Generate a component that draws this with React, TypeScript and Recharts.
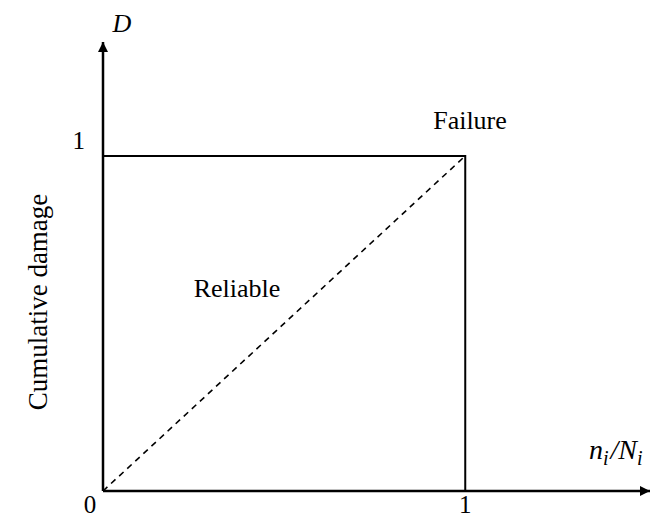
import React from "react"
import {
  ComposedChart,
  Line,
  XAxis,
  YAxis,
} from "recharts"

// Box boundary (reliable region) and Miner's rule line
const boxX = [0, 1, 1]
const boxY = [1, 1, 0]
const minerX = [0, 1]
const minerY = [0, 1]

const xTicks = [0, 1]
const yTicks = [1]
const xTickLabels = ["0", "1"]
const yTickLabels = ["1"]

const boxData = boxX.map((x, i) => ({ x, y: boxY[i] }))
const minerData = minerX.map((x, i) => ({ x, y: minerY[i] }))

const FONT = "Liberation Serif, Times New Roman, serif"

const Note = ({ children, ...rest }: any) => (
  <text fontFamily={FONT} style={{ fontFamily: FONT }} fontSize={26} fill="#000" {...rest}>
    {children}
  </text>
)

const XTick = (props: any) => {
  const { x, y, payload } = props
  const i = xTicks.indexOf(payload.value)
  const dx = payload.value === 0 ? -13 : 0
  return (
    <Note x={x + dx} y={y + 22} textAnchor="middle" fontSize={25}>
      {xTickLabels[i]}
    </Note>
  )
}

const YTick = (props: any) => {
  const { x, y, payload } = props
  const i = yTicks.indexOf(payload.value)
  return (
    <Note x={x - 18} y={y - 7} textAnchor="end" fontSize={25}>
      {yTickLabels[i]}
    </Note>
  )
}

export default function App() {
  return (
    <div style={{ position: "absolute", left: 0, top: 0, width: 652, height: 517, background: "#fff" }}>
      <ComposedChart
        width={652}
        height={517}
        margin={{ top: 42, right: 2, bottom: 25, left: 102 }}
      >
        <defs>
          <marker
            id="arrow"
            viewBox="0 0 10 10"
            refX="10"
            refY="5"
            markerWidth="11"
            markerHeight="10"
            markerUnits="userSpaceOnUse"
            orient="auto-start-reverse"
          >
            <path d="M0,0 L10,5 L0,10 z" fill="#000" />
          </marker>
        </defs>

        <XAxis
          type="number"
          dataKey="x"
          domain={[0, 1.51]}
          ticks={xTicks}
          allowDataOverflow
          height={1}
          tickLine={false}
          tickSize={0}
          tickMargin={0}
          tick={<XTick />}
          axisLine={{ stroke: "#000", strokeWidth: 2.5, markerEnd: "url(#arrow)" }}
        />
        <YAxis
          type="number"
          dataKey="y"
          domain={[0, 1.34]}
          ticks={yTicks}
          allowDataOverflow
          width={1}
          tickLine={false}
          tickSize={0}
          tickMargin={0}
          tick={<YTick />}
          axisLine={{ stroke: "#000", strokeWidth: 2.5, markerStart: "url(#arrow)" }}
        />

        <Line
          data={boxData}
          dataKey="y"
          type="linear"
          stroke="#000"
          strokeWidth={2}
          dot={false}
          activeDot={false}
          isAnimationActive={false}
        />
        <Line
          data={minerData}
          dataKey="y"
          type="linear"
          stroke="#000"
          strokeWidth={1.6}
          strokeDasharray="6 5"
          dot={false}
          activeDot={false}
          isAnimationActive={false}
        />

        <Note x={122} y={32} textAnchor="middle" fontStyle="italic">D</Note>
        <Note x={470} y={129} textAnchor="middle">Failure</Note>
        <Note x={237} y={297} textAnchor="middle">Reliable</Note>
        <Note x={47} y={302} fontSize={27} textAnchor="middle" transform="rotate(-90 47 302)">
          Cumulative damage
        </Note>
        <Note x={589} y={459} fontSize={28} fontStyle="italic">
          n<tspan fontSize={20} dy={6}>i</tspan>
          <tspan dx={2} dy={-6}>/N</tspan>
          <tspan fontSize={20} dy={6}>i</tspan>
        </Note>
      </ComposedChart>
    </div>
  )
}
